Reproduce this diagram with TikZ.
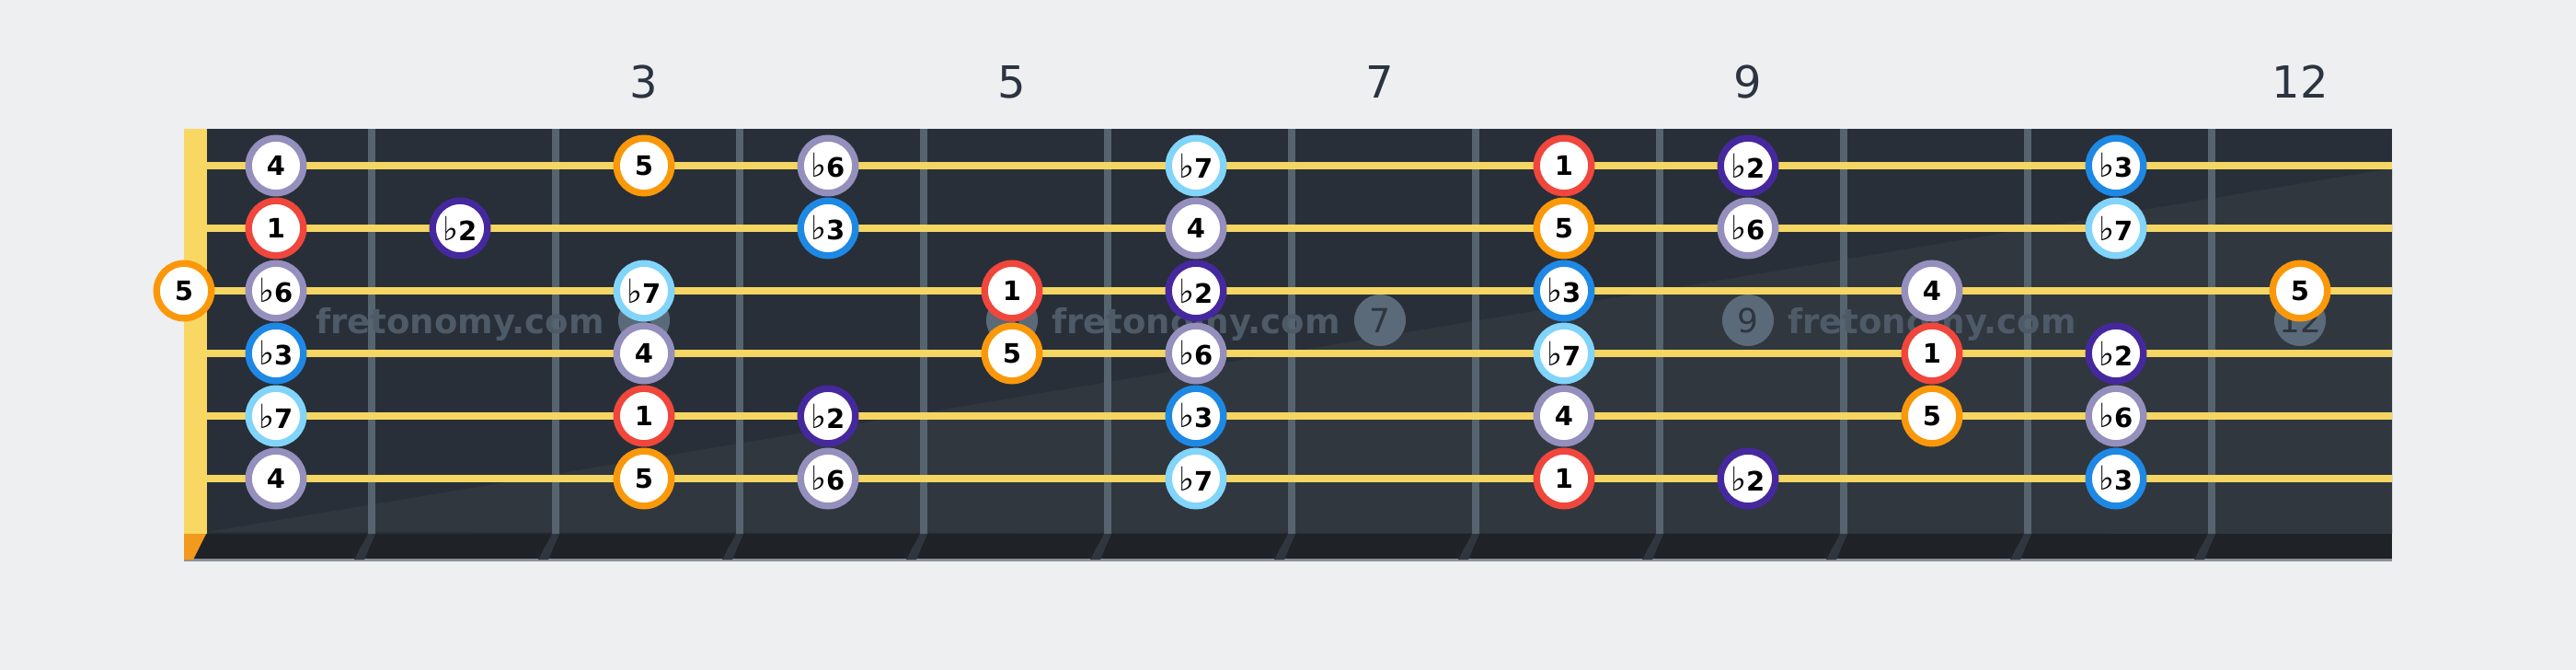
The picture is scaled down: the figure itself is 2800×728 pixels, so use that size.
\documentclass[tikz,border=0pt]{standalone}
\usepackage{fontspec}
\setmainfont{DejaVu Sans}
\definecolor{bgc}{HTML}{EEEFF1}
\definecolor{boardd}{HTML}{282F38}
\definecolor{boardl}{HTML}{30373F}
\definecolor{stripc}{HTML}{1F2327}
\definecolor{stripline}{HTML}{8A919A}
\definecolor{fretext}{HTML}{2F363F}
\definecolor{fretc}{HTML}{56646F}
\definecolor{stringc}{HTML}{F6D663}
\definecolor{nutc}{HTML}{F8D862}
\definecolor{nuto}{HTML}{F39A1E}
\definecolor{wmtextc}{HTML}{4E5A67}
\definecolor{wmcircc}{HTML}{5A6A78}
\definecolor{wmdigitc}{HTML}{2E3640}
\definecolor{labc}{HTML}{2B3440}
\definecolor{cone}{HTML}{F0463C}
\definecolor{ctwo}{HTML}{46289E}
\definecolor{cthree}{HTML}{1E88E5}
\definecolor{cfour}{HTML}{958FBD}
\definecolor{cfive}{HTML}{FB980A}
\definecolor{csix}{HTML}{958FBD}
\definecolor{cseven}{HTML}{81D4FA}
\newcommand\flt{{\mdseries\fontsize{36}{30}\selectfont ♭}\kern-0.5pt}
\tikzset{
  notebase/.style={circle, fill=white, line width=7.3pt, minimum size=59.5pt, inner sep=0pt,
    font=\fontsize{29}{30}\selectfont\bfseries, text=black},
  dA/.style={notebase, draw=cone},
  dB/.style={notebase, draw=ctwo},
  dC/.style={notebase, draw=cthree},
  dD/.style={notebase, draw=cfour},
  dE/.style={notebase, draw=cfive},
  dF/.style={notebase, draw=csix},
  dG/.style={notebase, draw=cseven},
  fretlabel/.style={inner sep=0pt, font=\fontsize{48}{50}\selectfont, text=labc},
  wmtext/.style={inner sep=0pt, anchor=base west, font=\fontsize{37}{38}\selectfont\bfseries, text=wmtextc},
  wmcirc/.style={circle, fill=wmcircc, minimum size=56pt, inner sep=0pt, font=\fontsize{36}{38}\selectfont, text=wmdigitc},
  fretwire/.style={draw=fretc, line width=8pt},
  stringline/.style={draw=stringc, line width=8pt},
}
\begin{document}
\begin{tikzpicture}[x=1pt,y=-1pt]
\useasboundingbox[fill=bgc] (0,0) rectangle (2800,728);
% board
\fill[boardd] (200,140) rectangle (2600,580);
\fill[boardl] (225,578) -- (2600,183) -- (2600,580) -- cycle;
% bottom strip
\fill[stripc] (200,580) rectangle (2600,608);
\fill[stripline] (200,607) rectangle (2600,610);
\fill[nuto] (200,580) -- (224,580) -- (210,608) -- (200,608) -- cycle;
\foreach \k in {0,...,10} {
  \pgfmathsetmacro\fx{404+200*\k}
  \fill[fretext] (\fx-4,580) -- (\fx+4,580) -- (\fx-8,608) -- (\fx-19,608) -- cycle;
}
% nut
\fill[nutc] (200,140) rectangle (225,580);
% fret wires
\foreach \k in {0,...,10} {
  \coordinate (ft\k) at ({404+200*\k},140);
  \coordinate (fb\k) at ({404+200*\k},580);
  \draw[fretwire] (ft\k) -- (fb\k);
}
% watermark
\node[wmcirc] (wm3) at (700,348) {3};
\node[wmcirc] (wm5) at (1100,348) {5};
\node[wmcirc] (wm7) at (1500,348) {7};
\node[wmcirc] (wm9) at (1900,348) {9};
\node[wmcirc] (wm12) at (2500,348) {12};
\node[wmtext] (wmt1) at (343,362) {fretonomy.com};
\node[wmtext] (wmt2) at (1143,362) {fretonomy.com};
\node[wmtext] (wmt3) at (1943,362) {fretonomy.com};
% strings
\foreach \k in {0,...,5} {
  \coordinate (sl\k) at (225,{180+68*\k});
  \coordinate (sr\k) at (2600,{180+68*\k});
  \draw[stringline] (sl\k) -- (sr\k);
}
% fret numbers
\node[fretlabel] (lab3) at (700,89) {3};
\node[fretlabel] (lab5) at (1100,89) {5};
\node[fretlabel] (lab7) at (1500,89) {7};
\node[fretlabel] (lab9) at (1900,89) {9};
\node[fretlabel] (lab12) at (2500,89) {12};
% string 1
\node[dD] (a1) at (300,180) {4};
\node[dE] (a3) at (700,180) {5};
\node[dF] (a4) at (900,180) {\flt6};
\node[dG] (a6) at (1300,180) {\flt7};
\node[dA] (a8) at (1700,180) {1};
\node[dB] (a9) at (1900,180) {\flt2};
\node[dC] (a11) at (2300,180) {\flt3};
% string 2
\node[dA] (b1) at (300,248) {1};
\node[dB] (b2) at (500,248) {\flt2};
\node[dC] (b4) at (900,248) {\flt3};
\node[dD] (b6) at (1300,248) {4};
\node[dE] (b8) at (1700,248) {5};
\node[dF] (b9) at (1900,248) {\flt6};
\node[dG] (b11) at (2300,248) {\flt7};
% string 3
\node[dE] (c0) at (200,316) {5};
\node[dF] (c1) at (300,316) {\flt6};
\node[dG] (c3) at (700,316) {\flt7};
\node[dA] (c5) at (1100,316) {1};
\node[dB] (c6) at (1300,316) {\flt2};
\node[dC] (c8) at (1700,316) {\flt3};
\node[dD] (c10) at (2100,316) {4};
\node[dE] (c12) at (2500,316) {5};
% string 4
\node[dC] (d1) at (300,384) {\flt3};
\node[dD] (d3) at (700,384) {4};
\node[dE] (d5) at (1100,384) {5};
\node[dF] (d6) at (1300,384) {\flt6};
\node[dG] (d8) at (1700,384) {\flt7};
\node[dA] (d10) at (2100,384) {1};
\node[dB] (d11) at (2300,384) {\flt2};
% string 5
\node[dG] (e1) at (300,452) {\flt7};
\node[dA] (e3) at (700,452) {1};
\node[dB] (e4) at (900,452) {\flt2};
\node[dC] (e6) at (1300,452) {\flt3};
\node[dD] (e8) at (1700,452) {4};
\node[dE] (e10) at (2100,452) {5};
\node[dF] (e11) at (2300,452) {\flt6};
% string 6
\node[dD] (f1) at (300,520) {4};
\node[dE] (f3) at (700,520) {5};
\node[dF] (f4) at (900,520) {\flt6};
\node[dG] (f6) at (1300,520) {\flt7};
\node[dA] (f8) at (1700,520) {1};
\node[dB] (f9) at (1900,520) {\flt2};
\node[dC] (f11) at (2300,520) {\flt3};
\end{tikzpicture}
\end{document}
